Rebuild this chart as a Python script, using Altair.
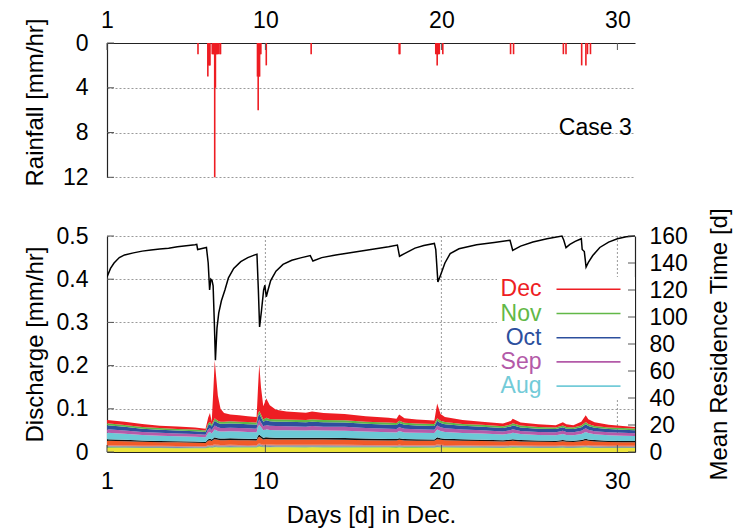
import altair as alt
import pandas as pd

FONT = "Liberation Sans"
RED = "#ee1d23"

# ---------------- discharge components (mm/hr) on a common time axis ----------------
days = [1.0, 2.0, 3.0, 4.0, 5.0, 6.0, 6.6, 6.75, 6.85, 6.95,
        7.05, 7.12, 7.2, 7.3, 7.45, 7.65, 8.0, 8.5, 9.0, 9.5,
        9.57, 9.65, 9.75, 9.88, 10.05, 10.25, 10.6, 11.2, 12.3, 12.65,
        13.3, 14.5, 15.7, 17.0, 17.45, 17.6, 17.9, 18.6, 19.6, 19.76,
        19.95, 20.2, 21.2, 22.3, 23.5, 23.95, 24.05, 24.5, 25.5, 26.5,
        26.9, 27.1, 27.5, 27.95, 28.2, 28.35, 28.7, 29.5, 30.3, 31.0]

# total discharge (top of the stack)
total_q = [0.074, 0.070, 0.065, 0.061, 0.059, 0.057, 0.054, 0.080, 0.090, 0.070,
           0.150, 0.212, 0.175, 0.130, 0.100, 0.090, 0.087, 0.085, 0.083, 0.081,
           0.140, 0.203, 0.150, 0.106, 0.124, 0.108, 0.098, 0.094, 0.091, 0.094,
           0.090, 0.088, 0.083, 0.079, 0.077, 0.087, 0.078, 0.075, 0.073, 0.112,
           0.088, 0.081, 0.074, 0.070, 0.066, 0.072, 0.077, 0.068, 0.064, 0.062,
           0.069, 0.064, 0.062, 0.070, 0.085, 0.076, 0.069, 0.063, 0.060, 0.058]

jan_q = [0.0100, 0.0097, 0.0093, 0.0091, 0.0089, 0.0088, 0.0086, 0.0100, 0.0103, 0.0098,
         0.0105, 0.0110, 0.0108, 0.0105, 0.0104, 0.0104, 0.0104, 0.0104, 0.0103, 0.0102,
         0.0118, 0.0125, 0.0118, 0.0108, 0.0111, 0.0109, 0.0108, 0.0108, 0.0107, 0.0108,
         0.0107, 0.0106, 0.0104, 0.0102, 0.0101, 0.0105, 0.0101, 0.0100, 0.0099, 0.0110,
         0.0105, 0.0103, 0.0099, 0.0097, 0.0095, 0.0098, 0.0100, 0.0096, 0.0093, 0.0092,
         0.0096, 0.0093, 0.0092, 0.0096, 0.0103, 0.0099, 0.0095, 0.0092, 0.0091, 0.0090]

# the three thin bands (Feb, Mar, May)
thin_q = [0.0013, 0.0013, 0.0012, 0.0012, 0.0012, 0.0011, 0.0011, 0.0013, 0.0013, 0.0013,
          0.0014, 0.0014, 0.0014, 0.0014, 0.0013, 0.0013, 0.0014, 0.0013, 0.0013, 0.0013,
          0.0015, 0.0016, 0.0015, 0.0014, 0.0014, 0.0014, 0.0014, 0.0014, 0.0014, 0.0014,
          0.0014, 0.0014, 0.0013, 0.0013, 0.0013, 0.0014, 0.0013, 0.0013, 0.0013, 0.0014,
          0.0014, 0.0013, 0.0013, 0.0013, 0.0012, 0.0013, 0.0013, 0.0012, 0.0012, 0.0012,
          0.0012, 0.0012, 0.0012, 0.0012, 0.0013, 0.0013, 0.0012, 0.0012, 0.0012, 0.0012]

apr_q = [0.0018, 0.0017, 0.0017, 0.0016, 0.0016, 0.0016, 0.0015, 0.0018, 0.0018, 0.0018,
         0.0019, 0.0020, 0.0019, 0.0019, 0.0019, 0.0019, 0.0019, 0.0019, 0.0018, 0.0018,
         0.0021, 0.0023, 0.0021, 0.0019, 0.0020, 0.0020, 0.0019, 0.0019, 0.0019, 0.0019,
         0.0019, 0.0019, 0.0019, 0.0018, 0.0018, 0.0019, 0.0018, 0.0018, 0.0018, 0.0020,
         0.0019, 0.0018, 0.0018, 0.0017, 0.0017, 0.0018, 0.0018, 0.0017, 0.0017, 0.0017,
         0.0017, 0.0017, 0.0017, 0.0017, 0.0018, 0.0018, 0.0017, 0.0017, 0.0016, 0.0016]

jun_q = [0.0105, 0.0098, 0.0090, 0.0085, 0.0082, 0.0079, 0.0075, 0.0105, 0.0110, 0.0100,
         0.0116, 0.0126, 0.0121, 0.0116, 0.0112, 0.0112, 0.0113, 0.0112, 0.0110, 0.0108,
         0.0142, 0.0158, 0.0142, 0.0121, 0.0128, 0.0123, 0.0122, 0.0121, 0.0119, 0.0122,
         0.0119, 0.0118, 0.0112, 0.0108, 0.0106, 0.0116, 0.0107, 0.0104, 0.0102, 0.0126,
         0.0116, 0.0110, 0.0103, 0.0099, 0.0093, 0.0100, 0.0105, 0.0096, 0.0090, 0.0088,
         0.0097, 0.0090, 0.0088, 0.0097, 0.0110, 0.0102, 0.0095, 0.0088, 0.0085, 0.0083]

jul_q = [0.0035, 0.0033, 0.0030, 0.0028, 0.0027, 0.0026, 0.0025, 0.0035, 0.0037, 0.0033,
         0.0039, 0.0042, 0.0040, 0.0039, 0.0037, 0.0037, 0.0038, 0.0037, 0.0037, 0.0036,
         0.0047, 0.0053, 0.0047, 0.0040, 0.0043, 0.0041, 0.0041, 0.0040, 0.0040, 0.0041,
         0.0040, 0.0039, 0.0037, 0.0036, 0.0035, 0.0039, 0.0036, 0.0035, 0.0034, 0.0042,
         0.0039, 0.0037, 0.0034, 0.0033, 0.0031, 0.0033, 0.0035, 0.0032, 0.0030, 0.0029,
         0.0032, 0.0030, 0.0029, 0.0032, 0.0037, 0.0034, 0.0032, 0.0029, 0.0028, 0.0028]

aug_q = [0.0150, 0.0140, 0.0129, 0.0122, 0.0117, 0.0113, 0.0107, 0.0150, 0.0158, 0.0143,
         0.0165, 0.0180, 0.0173, 0.0165, 0.0161, 0.0161, 0.0162, 0.0161, 0.0158, 0.0155,
         0.0203, 0.0225, 0.0203, 0.0173, 0.0183, 0.0176, 0.0174, 0.0173, 0.0170, 0.0174,
         0.0170, 0.0168, 0.0161, 0.0155, 0.0152, 0.0165, 0.0153, 0.0149, 0.0146, 0.0180,
         0.0165, 0.0158, 0.0147, 0.0141, 0.0134, 0.0143, 0.0150, 0.0137, 0.0129, 0.0126,
         0.0138, 0.0129, 0.0126, 0.0138, 0.0158, 0.0146, 0.0135, 0.0126, 0.0122, 0.0119]

sep_q = [0.0080, 0.0074, 0.0069, 0.0065, 0.0062, 0.0060, 0.0057, 0.0080, 0.0084, 0.0076,
         0.0088, 0.0096, 0.0092, 0.0088, 0.0086, 0.0086, 0.0086, 0.0086, 0.0084, 0.0082,
         0.0108, 0.0120, 0.0108, 0.0092, 0.0098, 0.0094, 0.0093, 0.0092, 0.0090, 0.0093,
         0.0090, 0.0090, 0.0086, 0.0082, 0.0081, 0.0088, 0.0082, 0.0079, 0.0078, 0.0096,
         0.0088, 0.0084, 0.0078, 0.0075, 0.0071, 0.0076, 0.0080, 0.0073, 0.0069, 0.0067,
         0.0074, 0.0069, 0.0067, 0.0074, 0.0084, 0.0078, 0.0072, 0.0067, 0.0065, 0.0063]

oct_q = [0.0090, 0.0084, 0.0077, 0.0073, 0.0070, 0.0068, 0.0064, 0.0090, 0.0095, 0.0086,
         0.0099, 0.0108, 0.0104, 0.0099, 0.0096, 0.0096, 0.0097, 0.0096, 0.0095, 0.0093,
         0.0122, 0.0135, 0.0122, 0.0104, 0.0110, 0.0105, 0.0104, 0.0104, 0.0102, 0.0104,
         0.0102, 0.0101, 0.0096, 0.0093, 0.0091, 0.0099, 0.0092, 0.0089, 0.0087, 0.0108,
         0.0099, 0.0095, 0.0088, 0.0085, 0.0080, 0.0086, 0.0090, 0.0082, 0.0077, 0.0076,
         0.0083, 0.0077, 0.0076, 0.0083, 0.0095, 0.0087, 0.0081, 0.0076, 0.0073, 0.0071]

nov_q = [0.0046, 0.0043, 0.0040, 0.0037, 0.0036, 0.0035, 0.0033, 0.0046, 0.0048, 0.0044,
         0.0051, 0.0055, 0.0053, 0.0051, 0.0049, 0.0049, 0.0050, 0.0049, 0.0048, 0.0047,
         0.0062, 0.0069, 0.0062, 0.0053, 0.0056, 0.0054, 0.0053, 0.0053, 0.0052, 0.0053,
         0.0052, 0.0052, 0.0049, 0.0047, 0.0046, 0.0051, 0.0047, 0.0046, 0.0045, 0.0055,
         0.0051, 0.0048, 0.0045, 0.0043, 0.0041, 0.0044, 0.0046, 0.0042, 0.0040, 0.0039,
         0.0042, 0.0040, 0.0039, 0.0042, 0.0048, 0.0045, 0.0041, 0.0039, 0.0037, 0.0036]

months = ["Jan", "Feb", "Mar", "Apr", "May", "Jun", "Jul", "Aug", "Sep", "Oct", "Nov", "Dec"]
month_colors = ["#ebe33b", "#5fb846", "#5670b0", "#8c8c8c", "#d9534f", "#f15a29",
                "#111111", "#6cc9d6", "#b65aa9", "#2e4f9e", "#5cb847", RED]

older = {"Jan": jan_q, "Feb": thin_q, "Mar": thin_q, "Apr": apr_q, "May": thin_q,
         "Jun": jun_q, "Jul": jul_q, "Aug": aug_q, "Sep": sep_q, "Oct": oct_q, "Nov": nov_q}
# December water is what remains of the total above the older components
dec_q = [round(max(t - sum(layer[i] for layer in older.values()), 0.0), 4)
         for i, t in enumerate(total_q)]
components = dict(older, Dec=dec_q)

# ---------------- mean residence time (d) ----------------
mrt_day = [1.0, 1.2, 1.4, 1.7, 2.0, 2.5, 3.0, 3.5, 4.0, 4.5,
           5.0, 5.5, 6.0, 6.1, 6.15, 6.4, 6.65, 6.75, 6.83, 6.9,
           6.97, 7.03, 7.1, 7.16, 7.25, 7.35, 7.5, 7.7, 7.9, 8.2,
           8.6, 9.0, 9.4, 9.52, 9.6, 9.67, 9.78, 9.9, 9.97, 10.05,
           10.15, 10.3, 10.6, 11.0, 11.5, 12.0, 12.55, 12.7, 13.2, 14.0,
           15.0, 16.0, 17.0, 17.5, 17.62, 17.9, 18.5, 19.0, 19.6, 19.68,
           19.8, 19.95, 20.2, 20.5, 21.0, 22.0, 23.0, 23.9, 24.05, 24.5,
           25.2, 26.0, 26.85, 26.95, 27.08, 27.3, 27.6, 27.95, 28.0, 28.12,
           28.22, 28.35, 28.6, 29.0, 29.5, 30.0, 30.5, 31.0]
mrt_val = [129.6, 136, 140, 144, 146, 147.5, 148.8, 149.7, 150.4, 151,
           152, 152.8, 153.5, 153.8, 150, 150.8, 151.5, 140, 120, 128,
           127, 123, 95, 68, 92, 103, 112, 120, 129, 136,
           141, 144, 146, 146.5, 120, 92.6, 105, 120, 123.5, 115,
           120, 127, 134, 139, 142, 143.8, 145.5, 141.5, 144, 146,
           148, 150, 152, 153.3, 145, 147, 151, 153, 154.5, 150,
           125.9, 131, 140, 147, 150.5, 153.5, 155.2, 156.8, 149.4, 152.5,
           155.6, 158, 160, 157, 151.4, 153.8, 156, 158, 150, 148.5,
           137, 140.5, 145.5, 151.5, 155.5, 158, 159.5, 160]

# ---------------- hourly rainfall (mm/hr) ----------------
rain_day = [6.17, 6.73, 6.77, 6.81, 6.85, 6.98, 7.02, 7.06, 7.09, 7.12,
            7.16, 7.20, 7.24, 7.28, 7.32, 7.42, 7.45, 9.55, 9.59, 9.63,
            9.67, 9.71, 9.74, 10.05, 12.6, 17.6, 17.64, 19.68, 19.72, 19.76,
            19.80, 19.84, 19.88, 20.08, 23.93, 24.1, 26.93, 27.08, 27.97, 28.21,
            28.3, 28.47]
rain_mm = [1, 3, 2, 2, 2, 1, 1, 1, 1, 12,
           4, 1, 1, 1, 1, 1, 1, 3, 6, 3,
           3, 1, 1, 2, 1, 1, 1, 1, 1, 2,
           1, 1, 1, 1, 1, 1, 1, 1, 2, 2,
           1, 1]

# ---------------- axes, legend ----------------
day_ticks = [1, 10, 20, 30]
rain_ticks = [0, 4, 8, 12]
q_ticks = [0, 0.1, 0.2, 0.3, 0.4, 0.5]
mrt_ticks = [0, 20, 40, 60, 80, 100, 120, 140, 160]
legend_labels = ["Dec", "Nov", "Oct", "Sep", "Aug"]
legend_colors = [RED, "#62b847", "#2c4f9d", "#b35aa8", "#73cbd8"]

# ---------------- layout (pixels inside the plot group) ----------------
W, H = 528, 409
RAIN_RANGE = [0, 134.3]
Q_RANGE = [409, 193]


def x_scale():
    return alt.Scale(domain=[1, 31], nice=False, zero=False)


def rain_scale():
    return alt.Scale(domain=[0, 12], range=RAIN_RANGE, nice=False, zero=False)


def q_scale():
    return alt.Scale(domain=[0, 0.5], range=Q_RANGE, nice=False, zero=False)


def mrt_scale():
    return alt.Scale(domain=[0, 160], range=Q_RANGE, nice=False, zero=False)


rows = []
for k, m in enumerate(months):
    for d, v in zip(days, components[m]):
        rows.append({"day": d, "q": v, "month": m, "k": k})
flow_df = pd.DataFrame(rows)
mrt_df = pd.DataFrame({"day": mrt_day, "mrt": mrt_val})
rain_df = pd.DataFrame({"day": rain_day, "mm": rain_mm, "base": [0] * len(rain_day)})

grid_rule = dict(color="#9a9a9a", strokeWidth=1, strokeDash=[2, 2])
tick_rule = dict(color="#555555", strokeWidth=1)

vgrid = alt.Chart(pd.DataFrame({"day": [10, 20, 30]})).mark_rule(**grid_rule).encode(
    x=alt.X("day:Q", scale=x_scale(), axis=None),
    y=alt.value(Q_RANGE[1]), y2=alt.value(Q_RANGE[0]),
)

key_box = alt.Chart(pd.DataFrame({"a": [0]})).mark_rect(color="white").encode(
    x=alt.value(390), x2=alt.value(W), y=alt.value(234), y2=alt.value(357),
)

area = alt.Chart(flow_df).mark_area(interpolate="linear").encode(
    x=alt.X("day:Q", scale=x_scale(),
            axis=alt.Axis(orient="bottom", values=day_ticks, title="Days [d] in Dec.",
                          grid=False, labelPadding=18, titleY=70,
                          titleBaseline="alphabetic")),
    y=alt.Y("q:Q", stack="zero", scale=q_scale(),
            axis=alt.Axis(orient="left", values=q_ticks, title="Discharge [mm/hr]",
                          grid=True, labelPadding=19,
                          labelExpr="datum.value == 0 ? '0' : format(datum.value, '.1f')",
                          titleX=-65, titleBaseline="alphabetic")),
    color=alt.Color("month:N", scale=alt.Scale(domain=months, range=month_colors), legend=None),
    order=alt.Order("k:Q", sort="ascending"),
)

mrt = alt.Chart(mrt_df).mark_line(color="black", strokeWidth=1.5, clip=True).encode(
    x=alt.X("day:Q", scale=x_scale(), axis=None),
    y=alt.Y("mrt:Q", scale=mrt_scale(),
            axis=alt.Axis(orient="right", values=mrt_ticks, title="Mean Residence Time [d]",
                          grid=False, labelPadding=14, titleAngle=270, titleX=91,
                          titleBaseline="alphabetic")),
)

rain = alt.Chart(rain_df).mark_rule(color=RED, strokeWidth=1.6).encode(
    x=alt.X("day:Q", scale=x_scale(),
            axis=alt.Axis(orient="top", values=day_ticks, title=None, grid=False,
                          labelPadding=11)),
    y=alt.Y("mm:Q", scale=rain_scale(),
            axis=alt.Axis(orient="left", values=rain_ticks, title="Rainfall [mm/hr]",
                          grid=True, labelPadding=19, titleX=-65, titleY=59,
                          titleBaseline="alphabetic")),
    y2="base:Q",
)

# inward tick marks
rain_tk = alt.Chart(pd.DataFrame({"v": rain_ticks})).mark_rule(**tick_rule).encode(
    y=alt.Y("v:Q", scale=rain_scale(), axis=None), x=alt.value(0), x2=alt.value(7))
q_tk = alt.Chart(pd.DataFrame({"v": q_ticks})).mark_rule(**tick_rule).encode(
    y=alt.Y("v:Q", scale=q_scale(), axis=None), x=alt.value(0), x2=alt.value(7))
mrt_tk = alt.Chart(pd.DataFrame({"v": mrt_ticks})).mark_rule(**tick_rule).encode(
    y=alt.Y("v:Q", scale=mrt_scale(), axis=None), x=alt.value(W - 7), x2=alt.value(W))
bottom_tk = alt.Chart(pd.DataFrame({"v": day_ticks})).mark_rule(**tick_rule).encode(
    x=alt.X("v:Q", scale=x_scale(), axis=None), y=alt.value(H - 7), y2=alt.value(H))
top_tk = alt.Chart(pd.DataFrame({"v": day_ticks})).mark_rule(**tick_rule).encode(
    x=alt.X("v:Q", scale=x_scale(), axis=None), y=alt.value(0), y2=alt.value(7))

legend_df = pd.DataFrame({"label": legend_labels, "color": legend_colors,
                          "row": list(range(len(legend_labels)))})
row_scale = alt.Scale(type="point", domain=list(range(len(legend_labels))),
                      range=[246.3, 343.1], padding=0)
key_text = alt.Chart(legend_df).mark_text(align="right", baseline="middle", font=FONT,
                                          fontSize=23).encode(
    y=alt.Y("row:O", scale=row_scale, axis=None), x=alt.value(434.5),
    text="label:N", color=alt.Color("color:N", scale=None),
)
key_line = alt.Chart(legend_df).mark_rule(strokeWidth=1.6).encode(
    y=alt.Y("row:O", scale=row_scale, axis=None), x=alt.value(449.5), x2=alt.value(513.5),
    color=alt.Color("color:N", scale=None),
)

case_label = alt.Chart(pd.DataFrame({"t": ["Case 3"]})).mark_text(
    align="right", baseline="alphabetic", font=FONT, fontSize=23, color="black").encode(
    x=alt.value(524.7), y=alt.value(92.3), text="t:N")

chart = alt.layer(
    vgrid, key_box, area, mrt, rain, rain_tk, q_tk, mrt_tk, bottom_tk, top_tk,
    key_line, key_text, case_label,
).resolve_scale(
    x="independent", y="independent", color="independent"
).resolve_axis(
    x="independent", y="independent"
).properties(
    width=W, height=H,
    autosize=alt.AutoSizeParams(type="none"),
    padding={"left": 107, "top": 43, "right": 98, "bottom": 76},
).configure_view(
    strokeWidth=0
).configure_axis(
    labelFont=FONT, titleFont=FONT, labelFontSize=23, titleFontSize=24,
    titleFontWeight="normal", labelColor="black", titleColor="black",
    domainColor="#222222", domainWidth=1.2, ticks=False, tickSize=0,
    labelFlush=False, gridColor="#9a9a9a", gridDash=[2, 2], gridWidth=1,
)

chart.save("out.html", embed_options={"renderer": "svg", "actions": False})
